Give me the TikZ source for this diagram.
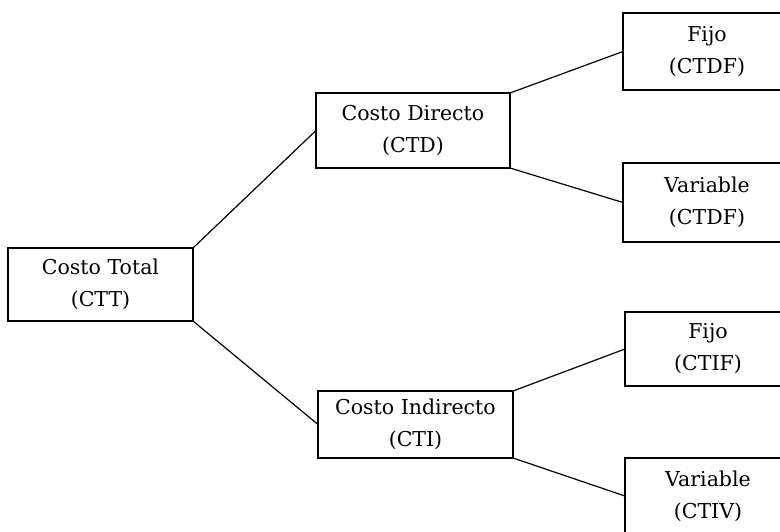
\documentclass[tikz,border=0pt]{standalone}
\usepackage{fontspec}
\setmainfont{DejaVu Serif}
\begin{document}
\begin{tikzpicture}[x=1pt,y=-1pt,
  costbox/.style={draw, line width=2.2pt, outer sep=0pt, inner sep=0pt, align=center,
    font=\fontsize{20.5}{32}\selectfont},
  link/.style={line width=1.2pt}]
\clip (0,0) rectangle (780,532);
\fill[white] (0,0) rectangle (780,532);
\node[costbox, minimum width=185pt, minimum height=73pt] (ctt) at (100.5,284.5) {Costo Total\\(CTT)};
\node[costbox, minimum width=194pt, minimum height=75pt] (ctd) at (413,130.5) {Costo Directo\\(CTD)};
\node[costbox, minimum width=195pt, minimum height=67pt] (cti) at (415.5,424.5) {Costo Indirecto\\(CTI)};
\node[costbox, minimum width=168pt, minimum height=77pt] (ctdf) at (707,51.5) {Fijo\\(CTDF)};
\node[costbox, minimum width=168pt, minimum height=79pt] (ctdv) at (707,202.5) {Variable\\(CTDF)};
\node[costbox, minimum width=166pt, minimum height=74pt] (ctif) at (708,349) {Fijo\\(CTIF)};
\node[costbox, minimum width=166pt, minimum height=76pt] (ctiv) at (708,496) {Variable\\(CTIV)};
\draw[link] (ctt.north east) -- (ctd.west);
\draw[link] (ctt.south east) -- (cti.west);
\draw[link] (ctd.north east) -- (ctdf.west);
\draw[link] (ctd.south east) -- (ctdv.west);
\draw[link] (cti.north east) -- (ctif.west);
\draw[link] (cti.south east) -- (ctiv.west);
\end{tikzpicture}
\end{document}
